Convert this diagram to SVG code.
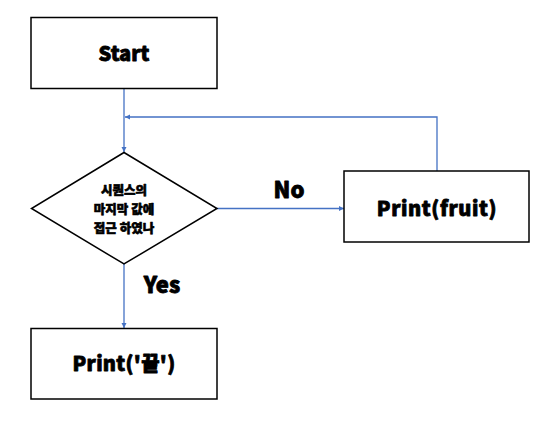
<svg xmlns="http://www.w3.org/2000/svg" width="546" height="422" viewBox="0 0 546 422">
<style>
.box{fill:#fff;stroke:#000;stroke-width:1.5}
.t{font-family:"Noto Sans CJK KR","Noto Sans",sans-serif;font-weight:900;fill:#000;stroke:#000;stroke-width:0.8;stroke-linejoin:round;text-anchor:middle;dominant-baseline:central}
.k{font-size:12.5px;stroke-width:0.6}
.c{fill:none;stroke:#4472C4;stroke-width:1.3}
</style>
<defs>
<marker id="ah" markerWidth="6" markerHeight="6" refX="5" refY="3" orient="auto" markerUnits="userSpaceOnUse">
<path d="M0,0.5 L5,3 L0,5.5 Z" fill="#4472C4"/>
</marker>
</defs>
<rect width="546" height="422" fill="#fff"/>
<g id="connectors">
<path class="c" d="M124,88 V152" marker-end="url(#ah)"/>
<path class="c" d="M437,171 V117 H125" marker-end="url(#ah)"/>
<path class="c" d="M217,208.5 H344" marker-end="url(#ah)"/>
<path class="c" d="M124,264 V328" marker-end="url(#ah)"/>
</g>
<g id="start">
<rect class="box" x="31" y="17.5" width="186" height="71"/>
<text class="t" x="124" y="52" font-size="20">Start</text>
</g>
<g id="decision">
<path class="box" d="M124,152.5 L217,208.5 L124,264 L31.5,208.5 Z" stroke-width="1"/>
<text class="t k" x="124" y="189">시퀀스의</text>
<text class="t k" x="124" y="208">마지막 값에</text>
<text class="t k" x="124" y="227">접근 하였나</text>
</g>
<g id="print-fruit">
<rect class="box" x="344" y="171" width="185" height="71"/>
<text class="t" x="437" y="207" font-size="20" letter-spacing="0.6">Print(fruit)</text>
</g>
<g id="print-end">
<rect class="box" x="31" y="328.5" width="186" height="70.5"/>
<text class="t" x="124" y="362" font-size="20" letter-spacing="0.3">Print('끝')</text>
</g>
<g id="labels">
<text class="t" x="289" y="188" font-size="22">No</text>
<text class="t" x="162" y="283" font-size="22">Yes</text>
</g>
</svg>
